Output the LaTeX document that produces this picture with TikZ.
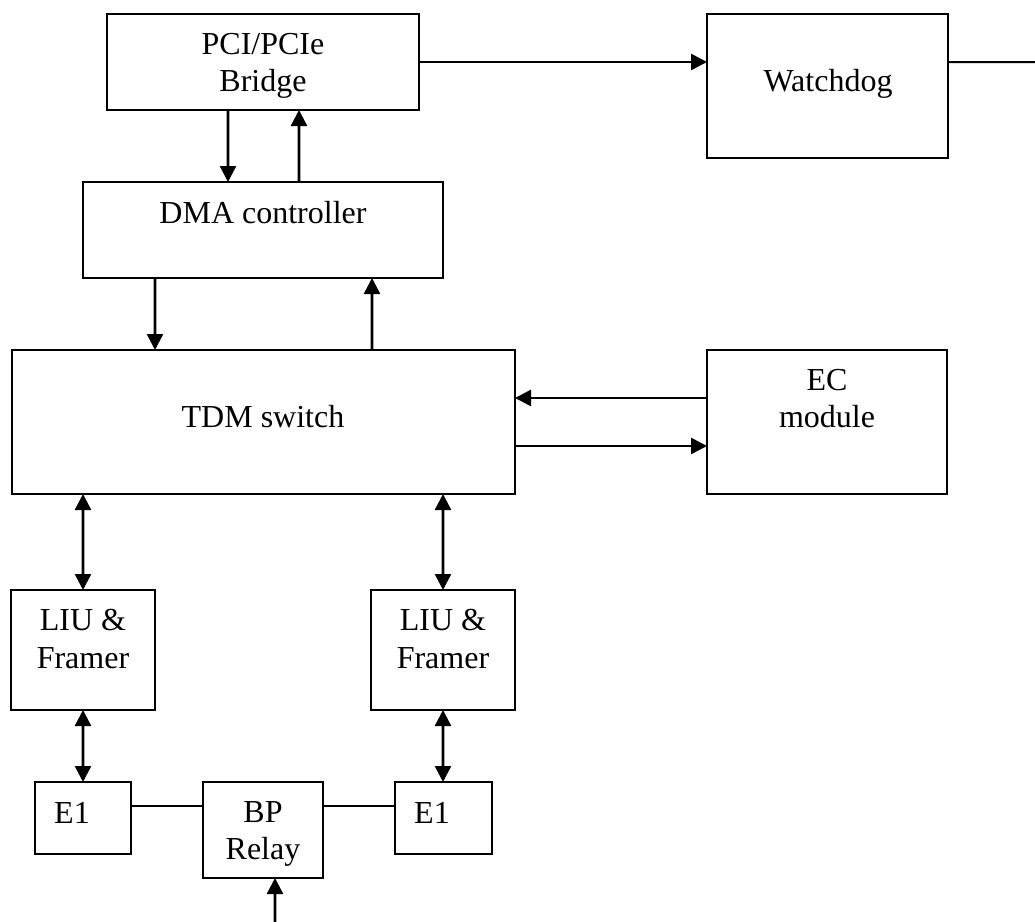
\documentclass[tikz,border=0pt]{standalone}
\usepackage{fontspec}
\setmainfont{Liberation Serif}
\usetikzlibrary{arrows.meta}
\tikzset{
  box/.style={draw, line width=2bp, inner sep=0pt, outer sep=0pt, anchor=north west},
  txt/.style={anchor=base, inner sep=0pt, font=\fontsize{32bp}{37bp}\selectfont},
  tip/.tip={Triangle[length=16bp 0 0,width=16bp 0]},
  arr/.style={line width=2.6bp, -tip},
  biarr/.style={line width=2.6bp, tip-tip},
  plain/.style={line width=1.4bp},
}
\begin{document}
\begin{tikzpicture}[x=1bp,y=-1bp]
\useasboundingbox (0,0) rectangle (1035,922);
% boxes
\node[box, minimum width=312bp, minimum height=96bp] (pci) at (107,14) {};
\node[box, minimum width=241bp, minimum height=144bp] (wd) at (707,14) {};
\node[box, minimum width=360bp, minimum height=96bp] (dma) at (83,182) {};
\node[box, minimum width=503bp, minimum height=144bp] (tdm) at (12,350) {};
\node[box, minimum width=240bp, minimum height=144bp] (ec) at (707,350) {};
\node[box, minimum width=144bp, minimum height=120bp] (liuL) at (11,590) {};
\node[box, minimum width=144bp, minimum height=120bp] (liuR) at (371,590) {};
\node[box, minimum width=96bp, minimum height=72bp] (e1L) at (35,782) {};
\node[box, minimum width=120bp, minimum height=96bp] (bp) at (203,782) {};
\node[box, minimum width=97bp, minimum height=72bp] (e1R) at (395,782) {};
% texts
\node[txt] (tpci1) at (263,54) {PCI/PCIe};
\node[txt] (tpci2) at (263,91) {Bridge};
\node[txt] (twd) at (828,91) {Watchdog};
\node[txt] (tdma) at (263,223) {DMA controller};
\node[txt] (ttdm) at (263,427) {TDM switch};
\node[txt] (tec1) at (827,390) {EC};
\node[txt] (tec2) at (827,427) {module};
\node[txt] (tliuL1) at (83,630) {LIU \&};
\node[txt] (tliuL2) at (83,668) {Framer};
\node[txt] (tliuR1) at (443,630) {LIU \&};
\node[txt] (tliuR2) at (443,668) {Framer};
\node[txt] (te1L) at (72,823) {E1};
\node[txt] (te1R) at (432,823) {E1};
\node[txt] (tbp1) at (263,822) {BP};
\node[txt] (tbp2) at (263,859) {Relay};
% free ends
\coordinate (wdout) at (1035,62);
\coordinate (bpin) at (275,922);
% connectors
\draw[arr] ([xshift=121bp]pci.south west) -- ([xshift=145bp]dma.north west);
\draw[arr] ([xshift=216bp]dma.north west) -- ([xshift=192bp]pci.south west);
\draw[arr] ([yshift=-48bp]pci.north east) -- ([yshift=-48bp]wd.north west);
\draw[line width=2bp] ([yshift=-48bp]wd.north east) -- (wdout);
\draw[arr] ([xshift=72bp]dma.south west) -- ([xshift=143bp]tdm.north west);
\draw[arr] ([xshift=360bp]tdm.north west) -- ([xshift=289bp]dma.south west);
\draw[arr] ([yshift=-48bp]ec.north west) -- ([yshift=-48bp]tdm.north east);
\draw[arr] ([yshift=-96bp]tdm.north east) -- ([yshift=-96bp]ec.north west);
\draw[biarr] ([xshift=71bp]tdm.south west) -- ([xshift=72bp]liuL.north west);
\draw[biarr] ([xshift=431bp]tdm.south west) -- ([xshift=72bp]liuR.north west);
\draw[biarr] ([xshift=72bp]liuL.south west) -- ([xshift=48bp]e1L.north west);
\draw[biarr] ([xshift=72bp]liuR.south west) -- ([xshift=48bp]e1R.north west);
\draw[plain] ([yshift=-24bp]e1L.north east) -- ([yshift=-24bp]bp.north west);
\draw[plain] ([yshift=-24bp]bp.north east) -- ([yshift=-24bp]e1R.north west);
\draw[arr] (bpin) -- ([xshift=72bp]bp.south west);
\end{tikzpicture}
\end{document}
